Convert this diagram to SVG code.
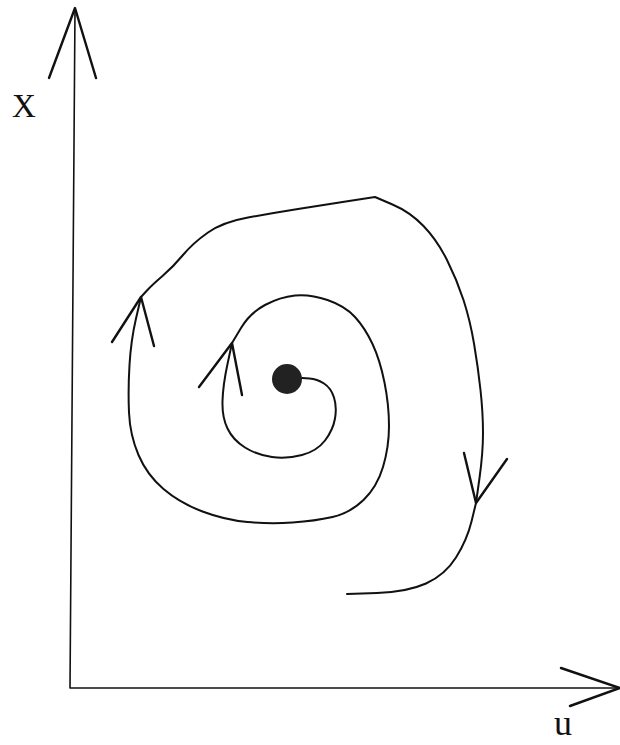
<svg xmlns="http://www.w3.org/2000/svg" width="620" height="745" viewBox="0 0 620 745">
<style>
.ax{fill:none;stroke:#111;stroke-width:1.6;stroke-linecap:round;stroke-linejoin:round}
.cv{fill:none;stroke:#111;stroke-width:2;stroke-linecap:round;stroke-linejoin:round}
.bar{fill:none;stroke:#111;stroke-width:2.4;stroke-linecap:round;stroke-linejoin:round}
.lbl{font-family:"Liberation Serif","Times New Roman",serif;fill:#111}
</style>
<rect width="620" height="745" fill="#fff"/>
<g id="axes">
<polyline class="ax" points="75,9 70,688 620,688"/>
<polyline class="bar" points="49,78 75,8 96,78"/>
<polyline class="bar" points="561,668 620,688 570,706"/>
</g>
<g id="labels">
<text class="lbl" x="12" y="117" font-size="33">X</text>
<text class="lbl" x="554" y="735" font-size="36">u</text>
</g>
<g id="connectors">
<path class="cv" d="M302,378 L309.5,378.5 Q317,379 324,383.5 Q331,388 334,397.5 Q337,407 335,418.5 Q333,430 325,440.5 Q317,451 302,455 Q287,459 272,457 Q257,455 245,447.5 Q233,440 227.5,428.5 Q222,417 222.5,401 Q223,385 227.5,364 L232,343 L241,328 Q250,313 265,305 Q280,297 295,295.5 Q310,294 327.5,300 Q345,306 355,317 Q365,328 372.5,344 Q380,360 384.5,382.5 Q389,405 389,426 Q389,447 383,467 Q377,487 363.5,500 Q350,513 332.5,517 Q315,521 292.5,522.5 Q270,524 247.5,522 Q225,520 202.5,511.5 Q180,503 163.5,489 Q147,475 138.5,455 Q130,435 129,412.5 Q128,390 129.5,365 Q131,340 136,318.5 L141,297 L146.5,291 Q152,285 162.5,276 Q173,267 183,255 Q193,243 208,232.5 Q223,222 248,217.5 Q273,213 298,209 Q323,205 349,201 L375,197 L392.5,204.5 Q410,212 423.5,226 Q437,240 447,260 Q457,280 463.5,300 Q470,320 474,343.5 Q478,367 480.5,390 Q483,413 483,433 Q483,453 479.5,478 L476,503 L471.5,521.5 Q467,540 456,557.5 Q445,575 426,583.5 Q407,592 377,593 L347,594"/>
<polyline class="bar" points="199,387 232,343 242,395"/>
<polyline class="bar" points="112,342 141,297 154,346"/>
<polyline class="bar" points="464,453 476,503 507,459"/>
</g>
<g id="equilibrium">
<circle cx="287" cy="379" r="15" fill="#222"/>
</g>
</svg>
